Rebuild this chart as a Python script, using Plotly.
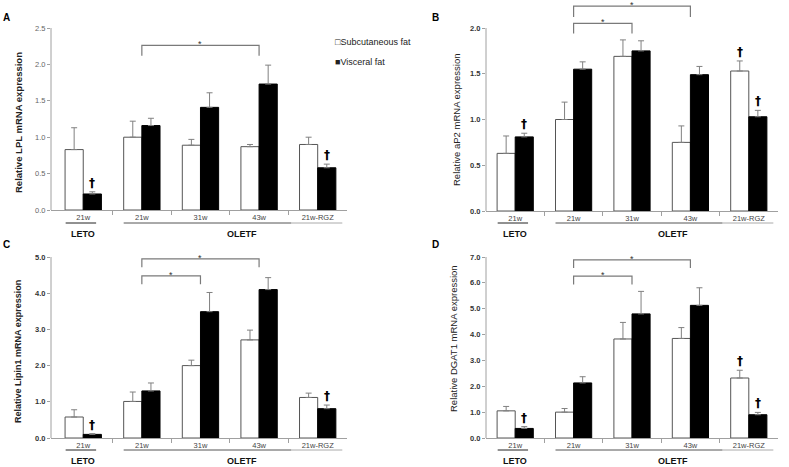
import plotly.graph_objects as go

W, H = 789, 467
FONT = "Liberation Sans, Arial, sans-serif"

# ---------------- data ----------------
categories = ["21w", "21w", "31w", "43w", "21w-RGZ"]
cat_pos = [0, 1, 2, 3, 4]

lpl_sub = [0.83, 1.00, 0.89, 0.87, 0.90]
lpl_sub_err = [0.30, 0.22, 0.08, 0.03, 0.10]
lpl_vis = [0.22, 1.16, 1.41, 1.73, 0.58]
lpl_vis_err = [0.03, 0.10, 0.20, 0.26, 0.05]

ap2_sub = [0.63, 1.00, 1.69, 0.75, 1.53]
ap2_sub_err = [0.19, 0.19, 0.18, 0.18, 0.11]
ap2_vis = [0.81, 1.55, 1.75, 1.49, 1.03]
ap2_vis_err = [0.04, 0.08, 0.11, 0.09, 0.07]

lipin_sub = [0.58, 1.01, 2.00, 2.71, 1.12]
lipin_sub_err = [0.20, 0.26, 0.15, 0.27, 0.12]
lipin_vis = [0.10, 1.30, 3.49, 4.10, 0.81]
lipin_vis_err = [0.02, 0.22, 0.53, 0.33, 0.10]

dgat_sub = [1.05, 1.00, 3.83, 3.85, 2.32]
dgat_sub_err = [0.17, 0.14, 0.64, 0.42, 0.30]
dgat_vis = [0.37, 2.13, 4.80, 5.13, 0.90]
dgat_vis_err = [0.07, 0.24, 0.87, 0.68, 0.09]

# dagger marks: (category index, series)
lpl_daggers = [(0, "vis"), (4, "vis")]
ap2_daggers = [(0, "vis"), (4, "sub"), (4, "vis")]
lipin_daggers = [(0, "vis"), (4, "vis")]
dgat_daggers = [(0, "vis"), (4, "sub"), (4, "vis")]

# significance brackets: (from cat, to cat, level, drop)
lpl_brackets = [(1, 3, 2.26, 2.12)]
ap2_brackets = [(1, 2, 2.05, 1.94), (1, 3, 2.24, 2.12)]
lipin_brackets = [(1, 2, 4.48, 4.25), (1, 3, 4.95, 4.72)]
dgat_brackets = [(1, 2, 6.26, 5.94), (1, 3, 6.89, 6.57)]

y_titles = ["Relative LPL mRNA expression", "Relative aP2 mRNA expression",
            "Relative Lipin1 mRNA expression", "Relative DGAT1 mRNA expression"]
panel_letters = ["A", "B", "C", "D"]
group_labels = ["LETO", "OLETF"]

# ---------------- layout specs (pixels) ----------------
panels = [
    dict(sub=lpl_sub, sube=lpl_sub_err, vis=lpl_vis, vise=lpl_vis_err,
         dag=lpl_daggers, br=lpl_brackets, ymax=2.5, dt=0.5,
         xdom=(51, 347), xr=(-0.55, 4.5), ybot=210, ytop=14, ytickpx=28,
         tick_bold=False, title_bold=True, title_xy=(18, 123), title_size=9.5,
         letter_xy=(6, 17), grp_y=234, line_y=223, tick_font_color="#666"),
    dict(sub=ap2_sub, sube=ap2_sub_err, vis=ap2_vis, vise=ap2_vis_err,
         dag=ap2_daggers, br=ap2_brackets, ymax=2.0, dt=0.5,
         xdom=(486, 778), xr=(-0.5, 4.5), ybot=211, ytop=0, ytickpx=28,
         tick_bold=True, title_bold=False, title_xy=(457, 120), title_size=9.5,
         letter_xy=(435, 17), grp_y=234, line_y=223, tick_font_color="#333"),
    dict(sub=lipin_sub, sube=lipin_sub_err, vis=lipin_vis, vise=lipin_vis_err,
         dag=lipin_daggers, br=lipin_brackets, ymax=5.0, dt=1.0,
         xdom=(51, 347), xr=(-0.55, 4.5), ybot=438, ytop=245, ytickpx=257,
         tick_bold=True, title_bold=True, title_xy=(18, 352), title_size=9,
         letter_xy=(6, 245), grp_y=461, line_y=450, tick_font_color="#333"),
    dict(sub=dgat_sub, sube=dgat_sub_err, vis=dgat_vis, vise=dgat_vis_err,
         dag=dgat_daggers, br=dgat_brackets, ymax=7.0, dt=1.0,
         xdom=(486, 778), xr=(-0.5, 4.5), ybot=438, ytop=245, ytickpx=257,
         tick_bold=True, title_bold=False, title_xy=(453, 339), title_size=9.5,
         letter_xy=(435, 245), grp_y=461, line_y=450, tick_font_color="#333"),
]

BW = 0.31
AXC = "#a0a0a0"
fig = go.Figure()
shapes, annots = [], []

for i, p in enumerate(panels):
    n = "" if i == 0 else str(i + 1)
    xa, ya = "x" + n, "y" + n
    ytop_val = p["ymax"] * (p["ybot"] - p["ytop"]) / (p["ybot"] - p["ytickpx"])

    fig.add_trace(go.Bar(
        x=cat_pos, y=p["sub"], width=BW, offset=-BW, xaxis=xa, yaxis=ya,
        marker=dict(color="white", line=dict(color="#555", width=1)),
        error_y=dict(type="data", array=p["sube"], arrayminus=[0] * 5, symmetric=False,
                     color="#808080", thickness=1, width=3),
        showlegend=False, name="Subcutaneous fat"))
    fig.add_trace(go.Bar(
        x=cat_pos, y=p["vis"], width=BW, offset=0, xaxis=xa, yaxis=ya,
        marker=dict(color="black", line=dict(color="black", width=1)),
        error_y=dict(type="data", array=p["vise"], arrayminus=[0] * 5, symmetric=False,
                     color="#808080", thickness=1, width=3),
        showlegend=False, name="Visceral fat"))

    tickvals = [round(k * p["dt"], 2) for k in range(int(round(p["ymax"] / p["dt"])) + 1)]
    tfont = dict(family=FONT, size=7.5, color=p["tick_font_color"])
    if p["tick_bold"]:
        tfont["weight"] = "bold"
    fig.layout["xaxis" + n] = dict(
        domain=[p["xdom"][0] / W, p["xdom"][1] / W], range=list(p["xr"]),
        anchor=ya, tickvals=cat_pos, ticktext=categories, ticks="",
        showline=True, linecolor=AXC, linewidth=1, showgrid=False, zeroline=False,
        automargin=False,
        tickfont=dict(family=FONT, size=7.5, color="#444"),
        minor=dict(tickvals=[0.5, 1.5, 2.5, 3.5], ticks="outside", ticklen=4,
                   tickcolor=AXC, showgrid=False),
        fixedrange=True)
    fig.layout["yaxis" + n] = dict(
        domain=[1 - p["ybot"] / H, 1 - p["ytop"] / H], range=[0, ytop_val],
        anchor=xa, tickvals=tickvals, tickformat=".1f", ticks="outside", ticklen=3,
        tickcolor=AXC, showline=False, showgrid=False, zeroline=False,
        automargin=False, tickfont=tfont, fixedrange=True)

    # y axis line stopping at top tick
    shapes.append(dict(type="line", xref=xa + " domain", yref=ya, x0=0, x1=0,
                       y0=0, y1=p["ymax"], line=dict(color=AXC, width=1)))

    # brackets
    for (a, b, lvl, drop) in p["br"]:
        shapes.append(dict(type="path", xref=xa, yref=ya,
                           path=f"M {a},{drop} L {a},{lvl} L {b},{lvl} L {b},{drop}",
                           line=dict(color="#7a7a7a", width=1.2)))
        annots.append(dict(xref=xa, yref=ya, x=(a + b) / 2, y=lvl, text="*",
                           showarrow=False, yanchor="bottom", yshift=-6,
                           font=dict(family=FONT, size=9, color="#333")))

    # daggers
    for (c, s) in p["dag"]:
        if s == "sub":
            xv, yv = c - BW / 2, p["sub"][c] + p["sube"][c]
        else:
            xv, yv = c + BW / 2, p["vis"][c] + p["vise"][c]
        annots.append(dict(xref=xa, yref=ya, x=xv, y=yv, text="<b>†</b>",
                           showarrow=False, yanchor="bottom", yshift=0,
                           font=dict(family="DejaVu Sans", size=12, color="#000000")))

    # group labels and underlines
    ly = 1 - p["line_y"] / H
    shapes.append(dict(type="line", xref=xa, yref="paper", x0=-0.3, x1=0.22,
                       y0=ly, y1=ly, line=dict(color="#222", width=1)))
    shapes.append(dict(type="line", xref=xa, yref="paper", x0=0.69, x1=3.55,
                       y0=ly, y1=ly, line=dict(color="#555", width=1)))
    shapes.append(dict(type="line", xref=xa, yref="paper", x0=3.55, x1=4.42,
                       y0=ly, y1=ly, line=dict(color="#aaa", width=1)))
    gy = 1 - p["grp_y"] / H
    for gx, gl in zip([0, 2.7], group_labels):
        annots.append(dict(xref=xa, yref="paper", x=gx, y=gy, text=f"<b>{gl}</b>",
                           showarrow=False, xanchor="center", yanchor="middle",
                           font=dict(family=FONT, size=9, color="#111")))

    # y title
    tx, ty = p["title_xy"]
    ttext = f"<b>{y_titles[i]}</b>" if p["title_bold"] else y_titles[i]
    annots.append(dict(xref="paper", yref="paper", x=tx / W, y=1 - ty / H, text=ttext,
                       textangle=-90, showarrow=False, xanchor="center", yanchor="middle",
                       font=dict(family=FONT, size=p["title_size"], color="#222")))
    # panel letter
    lx, lyy = p["letter_xy"]
    annots.append(dict(xref="paper", yref="paper", x=lx / W, y=1 - lyy / H,
                       text=f"<b>{panel_letters[i]}</b>", showarrow=False,
                       xanchor="center", yanchor="middle",
                       font=dict(family=FONT, size=10, color="black")))

# legend (manual)
annots.append(dict(xref="paper", yref="paper", x=333 / W, y=1 - 42 / H,
                   text="□Subcutaneous fat", showarrow=False, xanchor="left",
                   yanchor="middle", font=dict(family=FONT, size=9, color="#222")))
annots.append(dict(xref="paper", yref="paper", x=333 / W, y=1 - 62 / H,
                   text="■Visceral fat", showarrow=False, xanchor="left",
                   yanchor="middle", font=dict(family=FONT, size=9, color="#222")))

fig.update_layout(width=W, height=H, autosize=False,
                  margin=dict(l=0, r=0, t=0, b=0, pad=0),
                  paper_bgcolor="white", plot_bgcolor="white",
                  barmode="overlay", shapes=shapes, annotations=annots,
                  font=dict(family=FONT))

fig.write_html("out.html", config={"displayModeBar": False, "staticPlot": True},
               post_script="document.body.style.margin='0';document.body.style.overflow='hidden';")
